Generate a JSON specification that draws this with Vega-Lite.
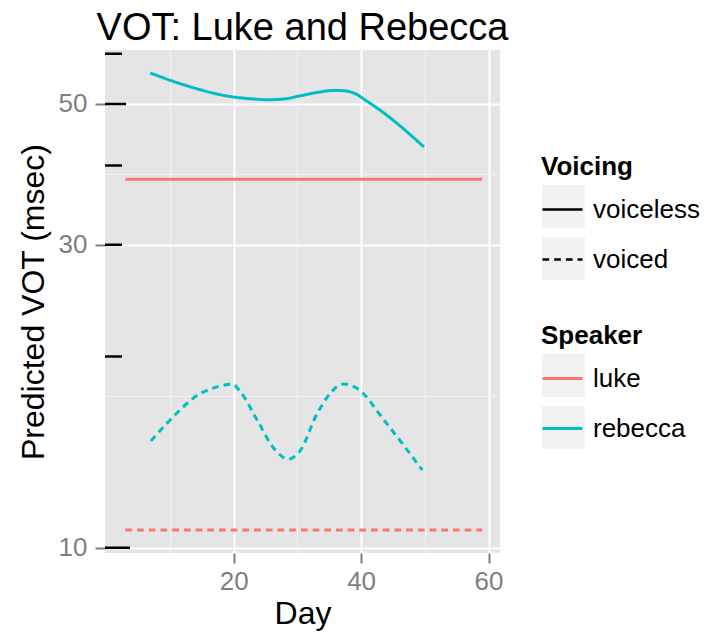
{
  "$schema": "https://vega.github.io/schema/vega-lite/v6.json",
  "width": 395,
  "height": 503,
  "autosize": {"type": "none"},
  "padding": {"left": 105, "top": 50, "right": 211, "bottom": 80},
  "title": {"text": "VOT: Luke and Rebecca", "fontSize": 38, "fontWeight": "normal", "font": "Liberation Sans", "color": "black", "anchor": "middle", "frame": "group", "offset": 2},
  "datasets": {
    "curves": [
      {"Day": 3, "VOT": 38.06, "Speaker": "luke", "Voicing": "voiceless"},
      {"Day": 59, "VOT": 38.06, "Speaker": "luke", "Voicing": "voiceless"},
      {"Day": 3, "VOT": 10.66, "Speaker": "luke", "Voicing": "voiced"},
      {"Day": 59, "VOT": 10.66, "Speaker": "luke", "Voicing": "voiced"},
      {"Day": 6.9, "VOT": 55.93, "Speaker": "rebecca", "Voicing": "voiceless"},
      {"Day": 12.14, "VOT": 53.6, "Speaker": "rebecca", "Voicing": "voiceless"},
      {"Day": 14.76, "VOT": 52.64, "Speaker": "rebecca", "Voicing": "voiceless"},
      {"Day": 17.39, "VOT": 51.83, "Speaker": "rebecca", "Voicing": "voiceless"},
      {"Day": 20.0, "VOT": 51.27, "Speaker": "rebecca", "Voicing": "voiceless"},
      {"Day": 22.63, "VOT": 50.95, "Speaker": "rebecca", "Voicing": "voiceless"},
      {"Day": 25.25, "VOT": 50.77, "Speaker": "rebecca", "Voicing": "voiceless"},
      {"Day": 27.86, "VOT": 50.9, "Speaker": "rebecca", "Voicing": "voiceless"},
      {"Day": 30.49, "VOT": 51.51, "Speaker": "rebecca", "Voicing": "voiceless"},
      {"Day": 33.11, "VOT": 52.13, "Speaker": "rebecca", "Voicing": "voiceless"},
      {"Day": 35.72, "VOT": 52.51, "Speaker": "rebecca", "Voicing": "voiceless"},
      {"Day": 37.3, "VOT": 52.45, "Speaker": "rebecca", "Voicing": "voiceless"},
      {"Day": 38.87, "VOT": 52.01, "Speaker": "rebecca", "Voicing": "voiceless"},
      {"Day": 40.97, "VOT": 50.46, "Speaker": "rebecca", "Voicing": "voiceless"},
      {"Day": 43.58, "VOT": 48.38, "Speaker": "rebecca", "Voicing": "voiceless"},
      {"Day": 46.2, "VOT": 46.09, "Speaker": "rebecca", "Voicing": "voiceless"},
      {"Day": 49.86, "VOT": 42.78, "Speaker": "rebecca", "Voicing": "voiceless"},
      {"Day": 7, "VOT": 14.72, "Speaker": "rebecca", "Voicing": "voiced"},
      {"Day": 9.5, "VOT": 15.69, "Speaker": "rebecca", "Voicing": "voiced"},
      {"Day": 14.8, "VOT": 17.5, "Speaker": "rebecca", "Voicing": "voiced"},
      {"Day": 17.4, "VOT": 17.92, "Speaker": "rebecca", "Voicing": "voiced"},
      {"Day": 19.8, "VOT": 18.1, "Speaker": "rebecca", "Voicing": "voiced"},
      {"Day": 21.05, "VOT": 17.6, "Speaker": "rebecca", "Voicing": "voiced"},
      {"Day": 23.7, "VOT": 15.88, "Speaker": "rebecca", "Voicing": "voiced"},
      {"Day": 26.3, "VOT": 14.34, "Speaker": "rebecca", "Voicing": "voiced"},
      {"Day": 28.6, "VOT": 13.79, "Speaker": "rebecca", "Voicing": "voiced"},
      {"Day": 30.5, "VOT": 14.25, "Speaker": "rebecca", "Voicing": "voiced"},
      {"Day": 33.1, "VOT": 16.27, "Speaker": "rebecca", "Voicing": "voiced"},
      {"Day": 37.3, "VOT": 18.1, "Speaker": "rebecca", "Voicing": "voiced"},
      {"Day": 39.4, "VOT": 17.82, "Speaker": "rebecca", "Voicing": "voiced"},
      {"Day": 43.6, "VOT": 15.88, "Speaker": "rebecca", "Voicing": "voiced"},
      {"Day": 49.6, "VOT": 13.25, "Speaker": "rebecca", "Voicing": "voiced"}
    ],
    "logticks": [
      {"v": 10, "kind": "long"},
      {"v": 20, "kind": "short"},
      {"v": 30, "kind": "short"},
      {"v": 40, "kind": "short"},
      {"v": 50, "kind": "mid"},
      {"v": 60, "kind": "short"}
    ]
  },
  "layer": [
    {
      "data": {"name": "curves"},
      "mark": {"type": "point", "filled": true, "opacity": 0, "color": "#F2F2F2"},
      "encoding": {
        "x": {"field": "Day", "type": "quantitative"},
        "y": {"field": "VOT", "type": "quantitative"},
        "shape": {"field": "Voicing", "type": "nominal",
          "scale": {"domain": ["voiced", "voiceless"], "range": ["square", "square"]},
          "legend": {"orient": "none", "legendX": 436, "legendY": 134, "title": null, "labelExpr": "''", "symbolType": "square", "symbolSize": 1936, "symbolFillColor": "#F2F2F2", "symbolStrokeColor": "white", "symbolStrokeWidth": 1, "symbolOpacity": 1, "rowPadding": 3, "zindex": 0, "padding": 0}},
        "fill": {"field": "Speaker", "type": "nominal",
          "scale": {"domain": ["rebecca", "luke"], "range": ["#F2F2F2", "#F2F2F2"]},
          "legend": {"orient": "none", "legendX": 436, "legendY": 303, "title": null, "labelExpr": "''", "symbolType": "square", "symbolSize": 1936, "symbolFillColor": "#F2F2F2", "symbolStrokeColor": "white", "symbolStrokeWidth": 1, "symbolOpacity": 1, "rowPadding": 3, "zindex": 0, "padding": 0}}
      }
    },
    {
      "data": {"name": "curves"},
      "mark": {"type": "line", "interpolate": "monotone", "strokeWidth": 3},
      "encoding": {
        "x": {"field": "Day", "type": "quantitative",
          "scale": {"domain": [-0.2, 61.8], "nice": false, "zero": false},
          "axis": {"title": "Day", "values": [10, 20, 30, 40, 50, 60],
            "labelExpr": "datum.value % 20 === 0 ? datum.label : ''",
            "tickOpacity": {"condition": {"test": "datum.value % 20 === 0", "value": 1}, "value": 0},
            "gridWidth": {"condition": {"test": "datum.value % 20 === 0", "value": 2}, "value": 1},
            "gridColor": {"condition": {"test": "datum.value % 20 === 0", "value": "#FFFFFF"}, "value": "#F2F2F2"},
            "labelPadding": 5, "titlePadding": 4}},
        "y": {"field": "VOT", "type": "quantitative",
          "scale": {"type": "log", "domain": [9.81, 60.8], "nice": false, "zero": false},
          "axis": {"title": "Predicted VOT (msec)", "values": [10, 17.32, 30, 38.73, 50],
            "labelExpr": "(datum.value === 10 || datum.value === 30 || datum.value === 50) ? datum.label : ''",
            "tickOpacity": {"condition": {"test": "datum.value === 10 || datum.value === 30 || datum.value === 50", "value": 1}, "value": 0},
            "gridWidth": {"condition": {"test": "datum.value === 10 || datum.value === 30 || datum.value === 50", "value": 2}, "value": 1},
            "gridColor": {"condition": {"test": "datum.value === 10 || datum.value === 30 || datum.value === 50", "value": "#FFFFFF"}, "value": "#F2F2F2"},
            "labelPadding": 8, "titlePadding": 8}},
        "color": {"field": "Speaker", "type": "nominal",
          "scale": {"domain": ["luke", "rebecca"], "range": ["#F8766D", "#00BFC4"]},
          "legend": {"orient": "none", "legendX": 436, "legendY": 273, "title": "Speaker", "symbolType": "stroke", "symbolSize": 1600, "symbolStrokeWidth": 3, "rowPadding": 15, "zindex": 1, "padding": 0, "titlePadding": 8}},
        "strokeDash": {"field": "Voicing", "type": "nominal",
          "scale": {"domain": ["voiceless", "voiced"], "range": [[1, 0], [6.7, 5]]},
          "legend": {"orient": "none", "legendX": 436, "legendY": 104, "title": "Voicing", "symbolType": "stroke", "symbolSize": 1600, "symbolStrokeWidth": 2.5, "symbolStrokeColor": "black", "symbolDash": [6, 4], "rowPadding": 15, "zindex": 1, "padding": 0, "titlePadding": 8}}
      }
    },
    {
      "data": {"name": "logticks"},
      "mark": {"type": "tick", "orient": "horizontal", "color": "black", "thickness": 2.5, "clip": true, "opacity": 1},
      "encoding": {
        "y": {"field": "v", "type": "quantitative"},
        "x": {"datum": -0.2, "type": "quantitative"},
        "size": {"field": "kind", "type": "nominal", "scale": {"domain": ["long", "mid", "short"], "range": [50, 34, 20]}, "legend": null}
      }
    }
  ],
  "config": {
    "font": "Liberation Sans",
    "view": {"fill": "#E5E5E5", "stroke": null},
    "axis": {"domain": false, "labelColor": "#7F7F7F", "labelFontSize": 26, "tickColor": "#7F7F7F", "tickWidth": 2, "tickSize": 10, "titleFontSize": 32, "titleColor": "black", "titleFontWeight": "normal", "gridColor": "#FFFFFF"},
    "legend": {"labelFontSize": 26, "labelColor": "black", "titleFontSize": 26, "titleFontWeight": "bold", "titleColor": "black", "labelOffset": 9, "padding": 0}
  }
}
